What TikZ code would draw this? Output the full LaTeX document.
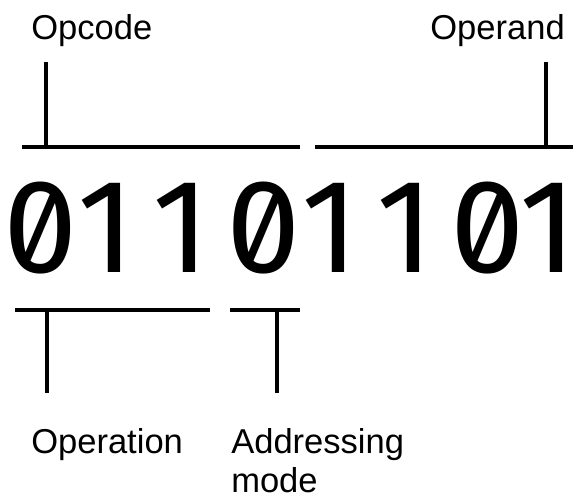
\documentclass[tikz,border=0pt]{standalone}
\usepackage{fontspec}
\setmainfont{Liberation Sans}
\newfontfamily\digitfont[Numbers={SlashedZero,Proportional,Lining}]{Fira Sans}
\newcommand\bitzero{\makebox[55.95pt][c]{0}}
\newcommand\bitone{\makebox[55.95pt][c]{1\kern12pt}}
\newcommand\bitlast{\makebox[55.95pt][c]{1\kern21pt}}
\begin{document}
\begin{tikzpicture}[x=0.75pt,y=-0.75pt,
  bar/.style={line width=3pt,line cap=butt},
  label/.style={inner sep=0pt,font=\fontsize{25.9}{29.3}\selectfont},
  bits/.style={inner sep=0pt,font=\digitfont\fontsize{100}{100}\selectfont}]
\useasboundingbox (0,0) rectangle (573,500);
% labels
\node[label,anchor=base west] (opcode) at (31,39) {Opcode};
\node[label,anchor=base east] (operand) at (565,39) {Operand};
\node[label,anchor=base west] (operation) at (31,453) {Operation};
\node[label,anchor=base west] (addr) at (231,453) {\vtop{\hbox{Addressing}\hbox{mode}}};
% bits
\node[bits,anchor=base west] (word) at (2.75,272)
  {\makebox[425pt][l]{\bitzero\bitone\bitone\bitzero\bitone\bitone\bitzero\bitlast}};
% coordinates
\coordinate (tl1) at (22,147);   \coordinate (tl2) at (300,147);
\coordinate (tr1) at (315,147);  \coordinate (tr2) at (576,147);
\coordinate (ta) at (46,62);     \coordinate (tab) at (46,147);
\coordinate (tb) at (545.5,62);  \coordinate (tbb) at (545.5,147);
\coordinate (bl1) at (15,310);   \coordinate (bl2) at (210,310);
\coordinate (br1) at (230,310);  \coordinate (br2) at (300,310);
\coordinate (ba) at (47,310);    \coordinate (bab) at (47,393);
\coordinate (bb) at (277,310);   \coordinate (bbb) at (277,393);
% bars
\draw[bar] (tl1) -- (tl2);
\draw[bar] (tr1) -- (tr2);
\draw[bar] (ta) -- (tab);
\draw[bar] (tb) -- (tbb);
\draw[bar] (bl1) -- (bl2);
\draw[bar] (br1) -- (br2);
\draw[bar] (ba) -- (bab);
\draw[bar] (bb) -- (bbb);
\end{tikzpicture}
\end{document}
